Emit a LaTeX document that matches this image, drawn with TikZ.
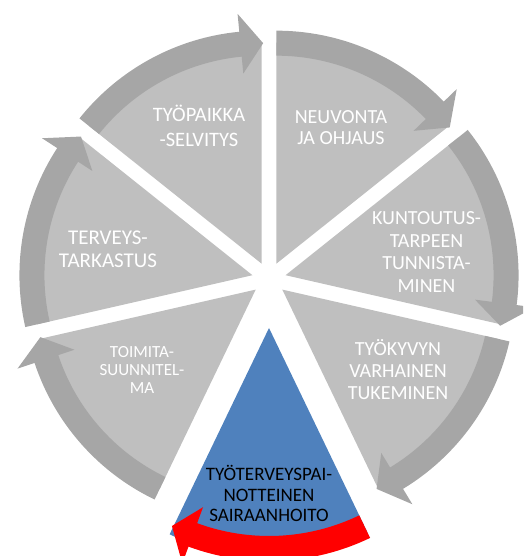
\documentclass[tikz,border=0pt]{standalone}
\usepackage{fontspec}
\setmainfont{Carlito}
\definecolor{lg}{HTML}{BFBFBF}
\definecolor{dg}{HTML}{A6A6A6}
\definecolor{bl}{HTML}{4F81BD}
\definecolor{rd}{HTML}{FF0000}
\begin{document}
\begin{tikzpicture}[x=1pt,y=1pt,
  lbl/.style={align=center, text=white, inner sep=0pt},
  dlbl/.style={align=center, text=black, inner sep=0pt}]
\useasboundingbox (0,0) rectangle (523,556);
\clip (0,0) rectangle (523,556);
\coordinate (C) at (269,277);
\begin{scope}[shift={(C)}]
  % sectors
  \foreach \b/\d/\sc/\rs in {115.714/17/lg/221, 64.286/17/lg/221, 12.857/17/lg/221, -38.571/17/lg/221, -90/49/bl/229, -141.429/17/lg/221, 167.143/17/lg/221}{
    \pgfmathsetmacro\alo{\b-25.714}
    \pgfmathsetmacro\ahi{\b+25.714}
    \begin{scope}[shift={(\b:\d)}]
      \fill[\sc] (0,0) -- (\alo:\rs) arc[start angle=\alo, end angle=\ahi, radius=\rs] -- cycle;
    \end{scope}
  }
  % arrows
  \foreach \b/\d/\ac in {115.714/17/dg, 64.286/17/dg, 12.857/17/dg, -38.571/17/dg, -90/49/rd, -141.429/17/dg, 167.143/17/dg}{
    \pgfmathsetmacro\alo{\b-25.714}
    \pgfmathsetmacro\ahi{\b+25.714}
    \pgfmathsetmacro\ab{\alo+5.5}
    \pgfmathsetmacro\at{\alo-0.4}
    \begin{scope}[shift={(\b:\d)}]
      \fill[\ac] (\ahi:208) -- (\ahi:233) arc[start angle=\ahi, end angle=\ab, radius=233]
        -- (\ab:251) -- (\at:220.5) -- (\ab:191) -- (\ab:208)
        arc[start angle=\ab, end angle=\ahi, radius=208] -- cycle;
    \end{scope}
  }
\end{scope}
\node[lbl, font=\fontsize{20.5}{24.5}\selectfont] (t1) at (199,430) {TYÖPAIKKA\\-SELVITYS};
\node[lbl, font=\fontsize{20}{21.5}\selectfont] (t2) at (341,428.5) {NEUVONTA\\JA OHJAUS};
\node[lbl, font=\fontsize{20}{22.7}\selectfont] (t3) at (426.5,304) {KUNTOUTUS-\\TARPEEN\\TUNNISTA-\\MINEN};
\node[lbl, font=\fontsize{20}{22}\selectfont] (t4) at (398,186.5) {TYÖKYVYN\\VARHAINEN\\TUKEMINEN};
\node[dlbl, font=\fontsize{19}{20.5}\selectfont] (t5) at (269,62.5) {TYÖTERVEYSPAI-\\NOTTEINEN\\SAIRAANHOITO};
\node[lbl, font=\fontsize{17}{18.3}\selectfont] (t6) at (142,186) {TOIMITA-\\SUUNNITEL-\\MA};
\node[lbl, font=\fontsize{21}{23}\selectfont] (t7) at (108,306.5) {TERVEYS-\\TARKASTUS};
\end{tikzpicture}
\end{document}
